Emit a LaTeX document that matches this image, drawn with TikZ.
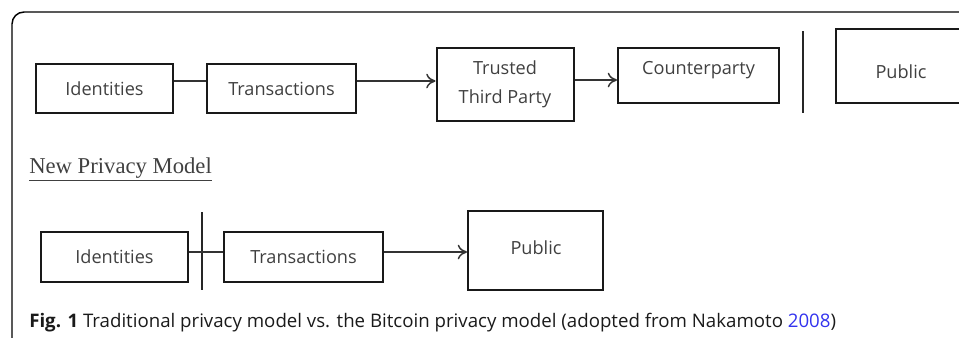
\documentclass[tikz,border=0pt]{standalone}
\usepackage{fontspec}
\setmainfont{Open Sans}
\newfontfamily\serifnew{Liberation Serif}
\usetikzlibrary{calc,arrows.meta}
\definecolor{boxtext}{HTML}{404040}
\definecolor{captext}{HTML}{1A1A1A}
\definecolor{linkblue}{HTML}{3333EE}
\tikzset{
  box/.style={draw=black!90, line width=1.5pt, inner sep=0pt, text=boxtext,
    font=\fontsize{13.6}{16}\selectfont},
  boxtxt/.style={inner sep=0pt, text=boxtext, font=\fontsize{13.6}{16}\selectfont},
  conn/.style={draw=black!80, line width=1.1pt},
  arr/.style={conn, -{To[length=7pt,width=11pt,line width=1.1pt]}},
  bar/.style={draw=black!85, line width=2pt},
}
\begin{document}
\begin{tikzpicture}[x=0.75pt,y=-0.75pt]
\useasboundingbox (0,0) rectangle (959,337);
\begin{scope}
\clip (0,0) rectangle (959,337);
\draw[line width=1.1pt, rounded corners=9pt] (12,400) -- (12,12) -- (1000,12);
% top row
\node[box, minimum width=137*0.75pt, minimum height=49*0.75pt] (id1) at (104.5,88.5) {Identities};
\node[box, minimum width=149*0.75pt, minimum height=49*0.75pt] (tr1) at (281.5,88.5) {Transactions};
\node[box, minimum width=137*0.75pt, minimum height=73*0.75pt, align=center,
  font=\fontsize{13.6}{21.75}\selectfont] (ttp) at (505,84.5) {Trusted\\Third Party};
\node[box, minimum width=161*0.75pt, minimum height=55*0.75pt] (cp) at (698.5,75.5) {};
\node[boxtxt] (cpt) at (698.5,70.5) {Counterparty};
\coordinate (b1t) at (803,31);
\coordinate (b1b) at (803,113);
\draw[bar] (b1t) -- (b1b);
\node[box, minimum width=126*0.75pt, minimum height=74*0.75pt] (pub1) at (899,66) {};
\node[boxtxt] (pub1t) at (901,72) {Public};
\draw[conn] ($(id1.east)+(0,-7.5)$) coordinate (c1) -- (c1 -| tr1.west);
\draw[arr] ($(tr1.east)+(0,-7.5)$) coordinate (c2) -- (c2 -| ttp.west);
\draw[arr] ($(ttp.east)+(0,-4.5)$) coordinate (c3) -- (c3 -| cp.west);
% heading
\node[anchor=base west, inner sep=0pt, text=black!75, font=\serifnew\fontsize{17}{20}\selectfont] (hd) at (29,173) {\underline{New Privacy Model}};
% bottom row
\node[box, minimum width=147*0.75pt, minimum height=50*0.75pt] (id2) at (114.5,257) {Identities};
\node[box, minimum width=159*0.75pt, minimum height=50*0.75pt] (tr2) at (303.5,257) {Transactions};
\node[box, minimum width=135*0.75pt, minimum height=79*0.75pt] (pub2) at (535.5,250.5) {};
\node[boxtxt] (pub2t) at (536,248) {Public};
\coordinate (b2t) at (202,212);
\coordinate (b2b) at (202,290);
\draw[bar] (b2t) -- (b2b);
\draw[conn] ($(id2.east)+(0,-5)$) coordinate (c4) -- (c4 -| tr2.west);
\draw[arr] ($(tr2.east)+(0,-5)$) coordinate (c5) -- (c5 -| pub2.west);
% caption
\node[anchor=base west, inner sep=0pt, text=captext, font=\fontsize{14}{17}\selectfont] (cap) at (29,327)
  {\textbf{Fig. 1} Traditional privacy model vs. the Bitcoin privacy model (adopted from Nakamoto \textcolor{linkblue}{2008})};
\end{scope}
\end{tikzpicture}
\end{document}
